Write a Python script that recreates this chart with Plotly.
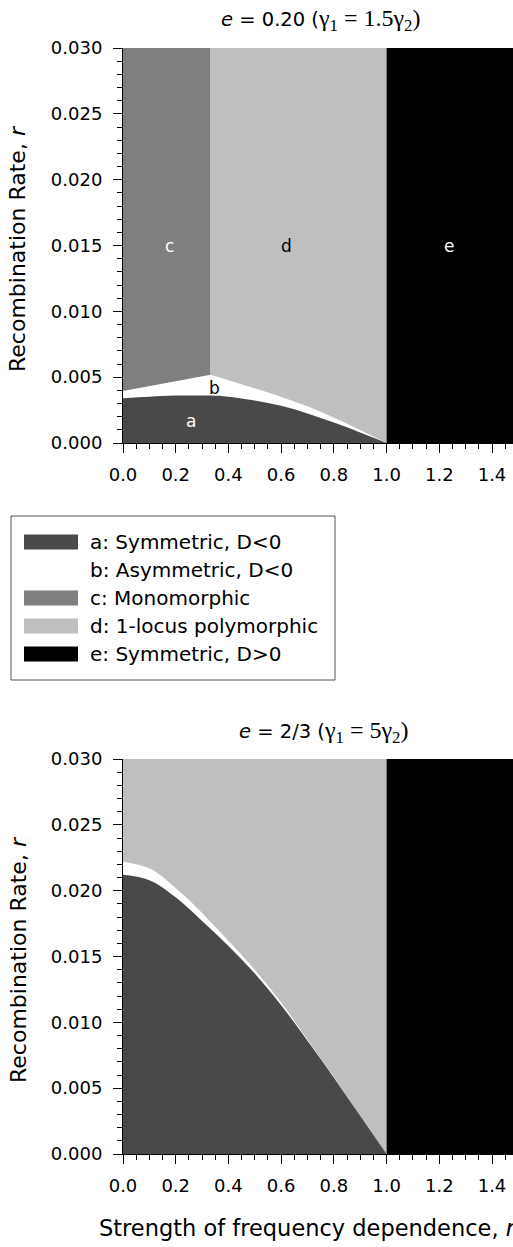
import plotly.graph_objects as go

# ---------------- data ----------------
# Top panel: e = 0.20
N_TOP_A = [0.0, 0.1, 0.2, 0.332, 0.4, 0.5, 0.6, 0.7, 0.8, 0.9, 1.0]
R_TOP_A = [0.0034, 0.00352, 0.0036, 0.0036, 0.00352, 0.00322, 0.00282, 0.00225, 0.00155, 0.0008, 0.0]
N_TOP_CB = [0.0, 0.332]
R_TOP_CB = [0.00395, 0.00519]
N_TOP_DB = [0.332, 0.48, 0.607, 0.734, 0.86, 1.0]
R_TOP_DB = [0.00519, 0.00428, 0.00345, 0.00251, 0.00137, 0.0]

# Bottom panel: e = 2/3
N_BOT = [0.0, 0.1, 0.2, 0.3, 0.4, 0.5, 0.6, 0.7, 0.8, 0.9, 1.0]
R_BOT_A = [0.0212, 0.0208, 0.0195, 0.0177, 0.0158, 0.0137, 0.0113, 0.0086, 0.0058, 0.0029, 0.0]
R_BOT_B = [0.0222, 0.0217, 0.0202, 0.0183, 0.0162, 0.0140, 0.0115, 0.0087, 0.00585, 0.00292, 0.0]

N_SWITCH = 1.0      # boundary to region e
N_MAX = 1.5
R_MAX = 0.03

REGION_KEYS = ["a", "b", "c", "d", "e"]
REGION_NAMES = ["a: Symmetric, D<0", "b: Asymmetric, D<0", "c: Monomorphic",
                "d: 1-locus polymorphic", "e: Symmetric, D>0"]
REGION_COLORS = ["#494949", "#ffffff", "#7f7f7f", "#bfbfbf", "#000000"]
COL = dict(zip(REGION_KEYS, REGION_COLORS))

SERIF = "font-family:Liberation Serif, Times New Roman, serif;font-size:24px"
TOP_TITLE = f"<i>e</i> = 0.20 (<span style='{SERIF}'>γ<sub>1</sub> = 1.5γ<sub>2</sub>)</span>"
BOT_TITLE = f"<i>e</i> = 2/3 (<span style='{SERIF}'>γ<sub>1</sub> = 5γ<sub>2</sub>)</span>"
Y_TITLE = "Recombination Rate, <i>r</i>"
X_TITLE = "Strength of frequency dependence, <i>n</i>"

# labels inside the top panel (n, r, text, colour)
TOP_LABELS = [(0.177, 0.015, "c", "white"), (0.621, 0.015, "d", "black"),
              (1.236, 0.015, "e", "white"), (0.348, 0.0042, "b", "black"),
              (0.259, 0.0017, "a", "white")]

FONT = "DejaVu Sans, Verdana, sans-serif"
W, H = 513, 1247
ML = 123


def px_x(X):
    return (X - ML) / (W - ML)


def px_y(Y):
    return 1 - Y / H


fig = go.Figure()


def area(xs, ys, color, xa, ya, fill="toself", shape="linear"):
    fig.add_trace(go.Scatter(x=xs, y=ys, fill=fill, fillcolor=color, mode="lines",
                             line=dict(width=0, color=color, shape=shape, smoothing=1.0),
                             hoverinfo="skip", showlegend=False, xaxis=xa, yaxis=ya))


# ---- top panel ----
xa, ya = "x", "y"
area([0, N_TOP_CB[-1], N_TOP_CB[-1], 0], [0, 0, R_MAX, R_MAX], COL["c"], xa, ya)
area([N_TOP_CB[-1], N_SWITCH, N_SWITCH, N_TOP_CB[-1]], [0, 0, R_MAX, R_MAX], COL["d"], xa, ya)
area([N_SWITCH, N_MAX, N_MAX, N_SWITCH], [0, 0, R_MAX, R_MAX], COL["e"], xa, ya)
area(N_TOP_CB, R_TOP_CB, COL["b"], xa, ya, fill="tozeroy")
area(N_TOP_DB, R_TOP_DB, COL["b"], xa, ya, fill="tozeroy", shape="spline")
area(N_TOP_A, R_TOP_A, COL["a"], xa, ya, fill="tozeroy", shape="spline")

# ---- bottom panel ----
xa, ya = "x2", "y2"
area([0, N_SWITCH, N_SWITCH, 0], [0, 0, R_MAX, R_MAX], COL["d"], xa, ya)
area([N_SWITCH, N_MAX, N_MAX, N_SWITCH], [0, 0, R_MAX, R_MAX], COL["e"], xa, ya)
area(N_BOT, R_BOT_B, COL["b"], xa, ya, fill="tozeroy", shape="spline")
area(N_BOT, R_BOT_A, COL["a"], xa, ya, fill="tozeroy", shape="spline")

x_range = [0, (W - 123.4) / 263.3]
axis_common = dict(showline=True, linecolor="black", linewidth=1, ticks="outside",
                   tickcolor="black", tickwidth=1, showgrid=False, zeroline=False,
                   automargin=False,
                   tickfont=dict(family=FONT, size=18, color="black"))

xcommon = dict(axis_common, range=x_range, tick0=0, dtick=0.2, tickformat=".1f", ticklen=9,
               ticklabelstandoff=6,
               minor=dict(dtick=0.05, ticklen=5, ticks="outside", tickcolor="black", showgrid=False))
ycommon = dict(axis_common, range=[0, R_MAX], tick0=0, dtick=0.005, tickformat=".3f", ticklen=9,
               ticklabelstandoff=7,
               minor=dict(dtick=0.001, ticklen=5, ticks="outside", tickcolor="black", showgrid=False))

fig.update_layout(
    width=W, height=H, autosize=False,
    margin=dict(l=ML, r=0, t=0, b=0, pad=0),
    paper_bgcolor="white", plot_bgcolor="white",
    showlegend=False,
    font=dict(family=FONT, color="black"),
    xaxis=dict(xcommon, domain=[0, 1], anchor="y"),
    yaxis=dict(ycommon, domain=[px_y(443), px_y(48)], anchor="x"),
    xaxis2=dict(xcommon, domain=[0, 1], anchor="y2"),
    yaxis2=dict(ycommon, domain=[px_y(1154), px_y(759)], anchor="x2"),
)

ann = []
# panel titles
ann.append(dict(x=px_x(321), y=px_y(20), xref="paper", yref="paper", text=TOP_TITLE,
                showarrow=False, xanchor="center", yanchor="middle",
                font=dict(family=FONT, size=19.5)))
ann.append(dict(x=px_x(323), y=px_y(732), xref="paper", yref="paper", text=BOT_TITLE,
                showarrow=False, xanchor="center", yanchor="middle",
                font=dict(family=FONT, size=19.5)))
# y axis titles
for yc in (249, 960):
    ann.append(dict(x=px_x(18), y=px_y(yc), xref="paper", yref="paper", text=Y_TITLE,
                    textangle=-90, showarrow=False, xanchor="center", yanchor="middle",
                    font=dict(family=FONT, size=22)))
# x axis title (bottom)
ann.append(dict(x=px_x(97), y=px_y(1228), xref="paper", yref="paper", text=X_TITLE,
                showarrow=False, xanchor="left", yanchor="middle",
                font=dict(family=FONT, size=22.5)))
# region labels in top panel
for n, r, t, c in TOP_LABELS:
    ann.append(dict(x=n, y=r, xref="x", yref="y", text=t, showarrow=False,
                    font=dict(family=FONT, size=17, color=c)))

shapes = []
# legend box
shapes.append(dict(type="rect", xref="paper", yref="paper", x0=px_x(11), x1=px_x(335),
                   y0=px_y(680), y1=px_y(516), line=dict(color="#555555", width=1),
                   fillcolor="white", layer="above"))
for i, (name, color) in enumerate(zip(REGION_NAMES, REGION_COLORS)):
    yc = 542 + 28 * i
    shapes.append(dict(type="rect", xref="paper", yref="paper", x0=px_x(24), x1=px_x(78),
                       y0=px_y(yc + 7.5), y1=px_y(yc - 7.5), line=dict(width=0),
                       fillcolor=color, layer="above"))
    ann.append(dict(x=px_x(88), y=px_y(yc), xref="paper", yref="paper", text=name,
                    showarrow=False, xanchor="left", yanchor="middle",
                    font=dict(family=FONT, size=20)))

fig.update_layout(annotations=ann, shapes=shapes)
fig.write_html("out.html", config={"displayModeBar": False},
               post_script="document.body.style.margin='0';")
